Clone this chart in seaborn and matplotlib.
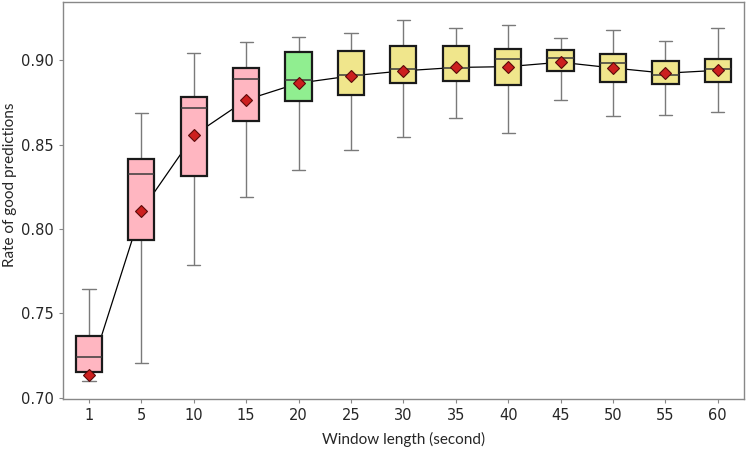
import numpy as np
import pandas as pd
import matplotlib
matplotlib.use('Agg')
import matplotlib.pyplot as plt
import seaborn as sns

# window lengths (seconds) and five-number summaries
windows = ['1', '5', '10', '15', '20', '25', '30', '35', '40', '45', '50', '55', '60']
whis_lo = [0.7099, 0.7207, 0.7787, 0.8191, 0.8350, 0.8468, 0.8544, 0.8660, 0.8569, 0.8765, 0.8670, 0.8674, 0.8694]
q1 = [0.7152, 0.7933, 0.8316, 0.8640, 0.8761, 0.8794, 0.8864, 0.8877, 0.8852, 0.8935, 0.8871, 0.8860, 0.8873]
median = [0.7241, 0.8324, 0.8717, 0.8891, 0.8881, 0.8911, 0.8948, 0.8953, 0.9006, 0.9012, 0.8982, 0.8913, 0.8947]
q3 = [0.7366, 0.8417, 0.8784, 0.8954, 0.9049, 0.9055, 0.9087, 0.9087, 0.9065, 0.9061, 0.9036, 0.8998, 0.9010]
whis_hi = [0.7644, 0.8686, 0.9043, 0.9108, 0.9140, 0.9160, 0.9237, 0.9191, 0.9211, 0.9134, 0.9181, 0.9114, 0.9188]
means = [0.7133, 0.8107, 0.8555, 0.8765, 0.8864, 0.8907, 0.8937, 0.8957, 0.8962, 0.8988, 0.8954, 0.8923, 0.8940]
box_colors = ['#FFB6C1'] * 4 + ['#90EE90'] + ['#F0E68C'] * 8

# long table of the five summary values per window; with whis=(0, 100)
# seaborn's quartiles of these reproduce the box exactly
summary = pd.DataFrame({
    'window': np.repeat(windows, 5),
    'rate': np.column_stack([whis_lo, q1, median, q3, whis_hi]).ravel(),
})
mean_df = pd.DataFrame({'window': windows, 'rate': means})

sns.set_style('white')
plt.rcParams['font.family'] = ['DejaVu Sans']

fig, ax = plt.subplots(figsize=(7.47, 4.5), dpi=100)
fig.subplots_adjust(left=0.084, right=0.996, top=0.996, bottom=0.113)

sns.boxplot(data=summary, x='window', y='rate', hue='window', order=windows,
            palette=dict(zip(windows, box_colors)), legend=False, saturation=1,
            whis=(0, 100), width=0.5, showfliers=False, ax=ax,
            boxprops=dict(edgecolor='#1a1a1a', linewidth=1.6, zorder=3),
            whiskerprops=dict(color='#7a7a7a', linewidth=1.0),
            capprops=dict(color='#7a7a7a', linewidth=1.0),
            medianprops=dict(color='#3a3a3a', linewidth=1.1, zorder=4))

# line through the means, behind the boxes
sns.pointplot(data=mean_df, x='window', y='rate', order=windows, color='black',
              markers='', linewidth=0.9, errorbar=None, ax=ax, zorder=1)
# mean markers on top
sns.pointplot(data=mean_df, x='window', y='rate', order=windows, color='#cc1f1f',
              markers='D', markersize=6, markeredgecolor='#5a0a0a',
              markeredgewidth=0.8, linestyle='none', errorbar=None, ax=ax,
              zorder=6)

ax.set_ylim(0.6992, 0.9346)
ax.set_xlim(-0.5, len(windows) - 0.5)
ax.set_yticks([0.70, 0.75, 0.80, 0.85, 0.90])
ax.set_yticklabels([f'{v:.2f}' for v in [0.70, 0.75, 0.80, 0.85, 0.90]])
ax.tick_params(axis='both', labelsize=10.5, length=3, color='#888888', direction='out',
               left=True, bottom=True)
ax.set_ylabel('Rate of good predictions', fontsize=11, family=['Lato', 'DejaVu Sans'],
              y=0.54, labelpad=3)
ax.set_xlabel('Window length (second)', fontsize=11, family=['Lato', 'DejaVu Sans'],
              labelpad=6)
for s in ax.spines.values():
    s.set_color('#888888')
    s.set_linewidth(1.0)

fig.savefig('out.png', dpi=100)
